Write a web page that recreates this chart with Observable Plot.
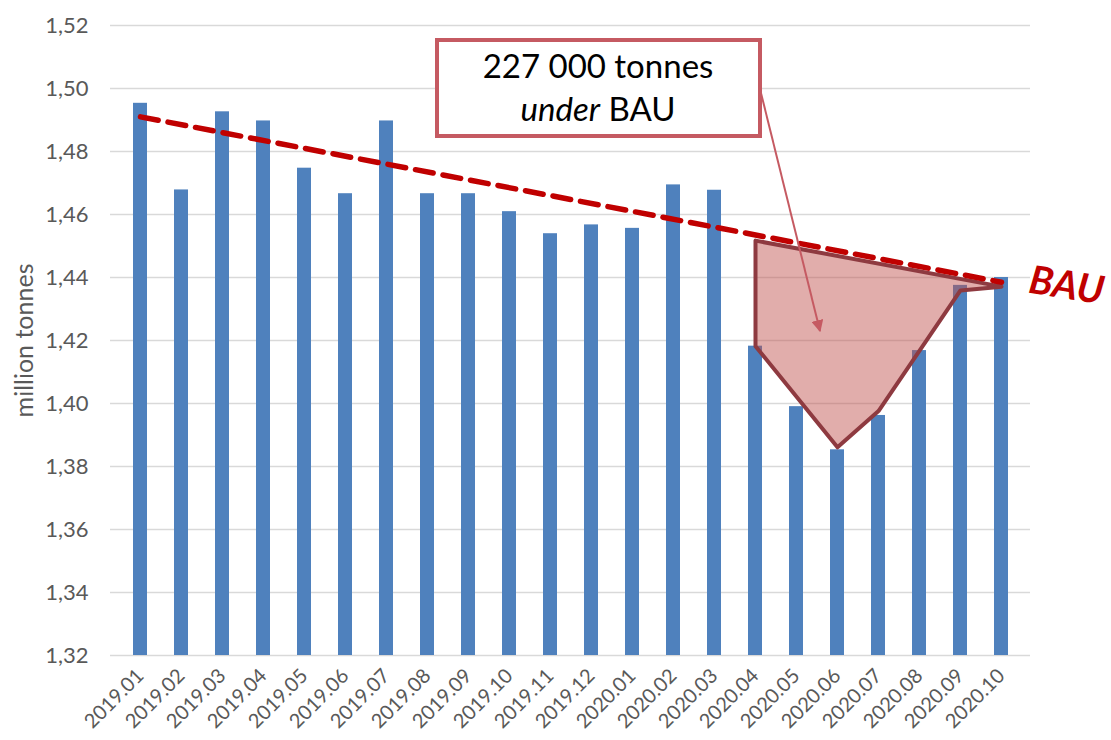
<!DOCTYPE html>
<html>
<head>
<meta charset="utf-8">
<script src="https://cdn.jsdelivr.net/npm/d3@7"></script>
<script src="https://cdn.jsdelivr.net/npm/@observablehq/plot@0.6"></script>
<style>
  html, body { margin: 0; padding: 0; background: #fff; }
  #chart { width: 1111px; height: 740px; }
</style>
</head>
<body>
<div id="chart"></div>
<script>
// ---- data ----
const months = ["2019.01","2019.02","2019.03","2019.04","2019.05","2019.06","2019.07","2019.08","2019.09","2019.10","2019.11","2019.12",
                "2020.01","2020.02","2020.03","2020.04","2020.05","2020.06","2020.07","2020.08","2020.09","2020.10"];
const values = [1.4953,1.4678,1.4926,1.4897,1.4747,1.4666,1.4897,1.4666,1.4666,1.4609,1.4539,1.4567,
                1.4556,1.4694,1.4677,1.4182,1.3990,1.3853,1.3962,1.4168,1.4375,1.4400];
const bauMonths = ["2019.01","2020.10"];
const bauValues = [1.491, 1.4385];
const gapMonths = ["2020.04","2020.04","2020.06","2020.07","2020.09","2020.10","2020.04"];
const gapValues = [1.4517,1.4182,1.3861,1.3976,1.4359,1.4371,1.4517];
const yTicks = [1.32,1.34,1.36,1.38,1.40,1.42,1.44,1.46,1.48,1.50,1.52];
const yLabel = "million tonnes";
const bauLabel = "BAU";
const noteLine1 = "227 000 tonnes";
const noteItalic = "under";
const noteRest = " BAU";

const bars = months.map((m, i) => ({month: m, value: values[i]}));
const bau = bauMonths.map((m, i) => ({month: m, value: bauValues[i]}));
const gap = gapMonths.map((m, i) => ({month: m, value: gapValues[i]}));

const FONT = "Lato, 'Open Sans', sans-serif";
const fmt = d => d.toFixed(2).replace(".", ",");

const chart = Plot.plot({
  width: 1111,
  height: 740,
  marginLeft: 110,
  marginRight: 81,
  marginTop: 25,
  marginBottom: 85,
  style: {fontFamily: FONT, background: "#fff"},
  x: {type: "band", domain: months, paddingInner: 0.665, paddingOuter: 0.33},
  y: {domain: [1.32, 1.52]},
  marks: [
    Plot.gridY(yTicks, {stroke: "#d9d9d9", strokeOpacity: 1, strokeWidth: 1.5}),
    Plot.barY(bars, {x: "month", y1: 1.32, y2: "value", fill: "#4f81bd"}),
    Plot.line(gap, {x: "month", y: "value", fill: "#c0504d", fillOpacity: 0.47,
                    stroke: "#8e3a40", strokeWidth: 4, strokeLinejoin: "round"}),
    Plot.line(bau, {x: "month", y: "value", stroke: "#c00000", strokeWidth: 5.5, strokeDasharray: "18,10"}),
    Plot.axisY(yTicks, {tickSize: 0, tickPadding: 22, tickFormat: fmt, fontSize: 22, fill: "#595959", label: null}),
    Plot.axisX({tickSize: 0, tickRotate: -45, tickPadding: 17, fontSize: 20, fill: "#595959", label: null}),
    Plot.text([yLabel], {frameAnchor: "left", textAnchor: "middle", rotate: -90, dx: -86, fontSize: 25, fill: "#595959"}),
    Plot.text([bau[1]], {x: "month", y: "value", text: () => bauLabel, textAnchor: "start", dx: 28, dy: -2,
                         rotate: 9, fontSize: 39, fontWeight: "bold", fontStyle: "italic", fill: "#c00000"})
  ]
});

document.getElementById("chart").appendChild(chart);

// ---- annotation box and arrow ----
const svg = d3.select(chart);
const defs = svg.append("defs");
defs.append("marker").attr("id", "ah").attr("viewBox", "0 0 10 10").attr("refX", 9).attr("refY", 5)
  .attr("markerWidth", 6).attr("markerHeight", 6).attr("orient", "auto-start-reverse")
  .append("path").attr("d", "M0,0 L10,5 L0,10 z").attr("fill", "#c55a62");

const g = svg.append("g");
g.append("line").attr("x1", 761).attr("y1", 93).attr("x2", 820).attr("y2", 331)
  .attr("stroke", "#c55a62").attr("stroke-width", 2).attr("marker-end", "url(#ah)");
g.append("rect").attr("x", 437).attr("y", 40).attr("width", 323).attr("height", 96)
  .attr("fill", "#fff").attr("stroke", "#c55a62").attr("stroke-width", 4);
g.append("text").attr("x", 598).attr("y", 78).attr("text-anchor", "middle")
  .attr("font-family", FONT).attr("font-size", 33).attr("fill", "#000").text(noteLine1);
const t2 = g.append("text").attr("x", 598).attr("y", 121).attr("text-anchor", "middle")
  .attr("font-family", FONT).attr("font-size", 33).attr("fill", "#000");
t2.append("tspan").attr("font-style", "italic").text(noteItalic);
t2.append("tspan").text(noteRest);
</script>
</body>
</html>
